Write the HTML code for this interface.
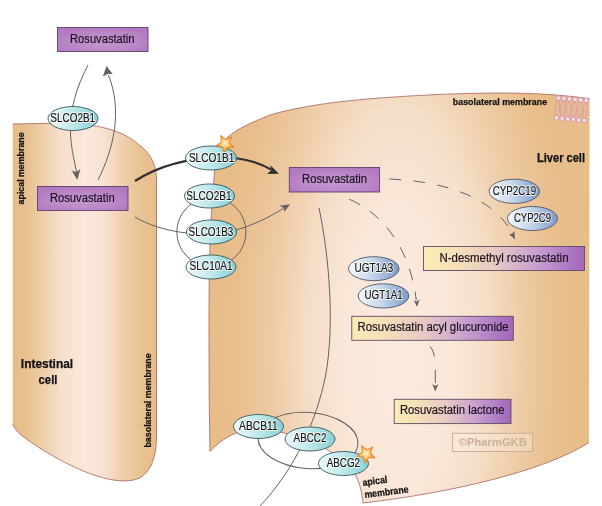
<!DOCTYPE html>
<html>
<head>
<meta charset="utf-8">
<title>Rosuvastatin Pathway, Pharmacokinetics</title>
<style>
html,body{margin:0;padding:0;background:#fff;}
body{width:602px;height:506px;overflow:hidden;font-family:"Liberation Sans",sans-serif;}
svg{display:block;will-change:transform;}
text{font-family:"Liberation Sans",sans-serif;}
</style>
</head>
<body>
<svg width="602" height="506" viewBox="0 0 602 506">
<defs>
  <linearGradient id="gInt" x1="12.700" y1="0" x2="156.500" y2="0" gradientUnits="userSpaceOnUse">
    <stop offset="0" stop-color="#e6bc89"/>
    <stop offset="0.1" stop-color="#e8c08f"/>
    <stop offset="0.2" stop-color="#eecda8"/>
    <stop offset="0.33" stop-color="#f6dfcb"/>
    <stop offset="0.5" stop-color="#fae8db"/>
    <stop offset="0.62" stop-color="#f8e4d4"/>
    <stop offset="0.75" stop-color="#f0d1b0"/>
    <stop offset="0.87" stop-color="#eac495"/>
    <stop offset="1" stop-color="#e7bd8a"/>
  </linearGradient>
  <radialGradient id="gLiv" cx="398" cy="350" r="180" gradientUnits="userSpaceOnUse" gradientTransform="translate(398 350) scale(1 2.67) translate(-398 -350)">
    <stop offset="0" stop-color="#faeade"/>
    <stop offset="0.3" stop-color="#f9e7d9"/>
    <stop offset="0.5" stop-color="#f5dec8"/>
    <stop offset="0.7" stop-color="#eecba4"/>
    <stop offset="0.9" stop-color="#e8be8c"/>
    <stop offset="1" stop-color="#e7bd8a"/>
  </radialGradient>
  <linearGradient id="gCyan" x1="0" y1="0" x2="1" y2="0">
    <stop offset="0" stop-color="#eefafa"/>
    <stop offset="0.45" stop-color="#c4eaec"/>
    <stop offset="1" stop-color="#86d0d6"/>
  </linearGradient>
  <linearGradient id="gBlue" x1="0" y1="0" x2="1" y2="0">
    <stop offset="0" stop-color="#f4f8fc"/>
    <stop offset="0.45" stop-color="#c8d8ea"/>
    <stop offset="1" stop-color="#7a99cc"/>
  </linearGradient>
  <linearGradient id="gYP" x1="0" y1="0" x2="1" y2="0">
    <stop offset="0" stop-color="#fbecb4"/>
    <stop offset="0.2" stop-color="#f5e0b8"/>
    <stop offset="0.45" stop-color="#e6c8c4"/>
    <stop offset="0.7" stop-color="#c9a0cf"/>
    <stop offset="0.88" stop-color="#b07cc6"/>
    <stop offset="1" stop-color="#a266b8"/>
  </linearGradient>
  <radialGradient id="gPur" cx="0.5" cy="0.6" r="0.62">
    <stop offset="0" stop-color="#c698d2"/>
    <stop offset="0.6" stop-color="#bb87c8"/>
    <stop offset="1" stop-color="#b279be"/>
  </radialGradient>
  <radialGradient id="gStar" cx="0.5" cy="0.5" r="0.5">
    <stop offset="0" stop-color="#fff3c8"/>
    <stop offset="0.5" stop-color="#fbc877"/>
    <stop offset="1" stop-color="#f2922e"/>
  </radialGradient>
</defs>

<rect width="602" height="506" fill="#ffffff"/>

<!-- Intestinal cell -->
<path id="intcell" d="M12.700,124 L50,123.300 C90,122.500 120,128 138,144 C148,151 156.500,162 156.500,180 L156.500,436 C156.500,460 149,479 130,480.500 C115,482.500 95,477 70,465 C55,457.500 40,449 25,438 C18,433 14.200,428 12.700,424 Z" fill="url(#gInt)"/>
<path d="M12.700,124 L50,123.300 C90,122.500 120,128 138,144 C148,151 156.500,162 156.500,180 L156.500,436 C156.500,460 149,479 130,480.500 C115,482.500 95,477 70,465 C55,457.500 40,449 25,438 C18,433 14.200,428 12.700,424" fill="none" stroke="#a8625a" stroke-width="0.8"/>

<!-- Liver cell -->
<path id="livcell" d="M210,451.500 L209.200,400 C209,330 208.600,290 210,245 C211,215 213,190 214.500,172 C216,158 219,147 225,140 C232,132 245,125 270,115 C300,106 340,101 380,98 C420,95 460,93 500,93 C535,93 565,95 589.600,98.800 L589,442.500 C545,471 450,493 363,503 C362,493 360,483 355,474 C350,467 342,459 331,452 C318,443 300,437 282,432.500 C268,429 248,428.500 235,433.500 C224,438 216,445 210,451.500 Z" fill="url(#gLiv)"/>
<path d="M589,442.500 C545,471 450,493 363,503 C362,493 360,483 355,474 C350,467 342,459 331,452 C318,443 300,437 282,432.500 C268,429 248,428.500 235,433.500 C224,438 216,445 210,451.500 L209.200,400 C209,330 208.600,290 210,245 C211,215 213,190 214.500,172 C216,158 219,147 225,140 C232,132 245,125 270,115 C300,106 340,101 380,98 C420,95 460,93 500,93 C535,93 565,95 589.600,98.800" fill="none" stroke="#a8625a" stroke-width="0.8"/>

<!-- membrane icon -->
<g id="memb" transform="translate(571.300 109.200) rotate(5.500)" stroke="#dc9cb0" stroke-width="1" fill="#fae0e7">
  <path d="M-14.7,-8.500 C-16.6,-3 -16.6,3 -14.7,8.500 M-13.3,-8.500 C-11.4,-3 -11.4,3 -13.3,8.500 M-9.1,-8.500 C-11.0,-3 -11.0,3 -9.1,8.500 M-7.7,-8.500 C-5.8,-3 -5.8,3 -7.7,8.500 M-3.5,-8.500 C-5.4,-3 -5.4,3 -3.5,8.500 M-2.1,-8.500 C-0.2,-3 -0.2,3 -2.1,8.500 M2.1,-8.500 C0.2,-3 0.2,3 2.1,8.500 M3.5,-8.500 C5.4,-3 5.4,3 3.5,8.500 M7.7,-8.500 C5.8,-3 5.8,3 7.7,8.500 M9.1,-8.500 C11.0,-3 11.0,3 9.1,8.500 M13.3,-8.500 C11.4,-3 11.4,3 13.3,8.500 M14.7,-8.500 C16.6,-3 16.6,3 14.7,8.500 " fill="none"/>
  <circle cx="-14" cy="-10" r="2.250"/><circle cx="-14" cy="10" r="2.250"/><circle cx="-8.4" cy="-10" r="2.250"/><circle cx="-8.4" cy="10" r="2.250"/><circle cx="-2.8" cy="-10" r="2.250"/><circle cx="-2.8" cy="10" r="2.250"/><circle cx="2.8" cy="-10" r="2.250"/><circle cx="2.8" cy="10" r="2.250"/><circle cx="8.4" cy="-10" r="2.250"/><circle cx="8.4" cy="10" r="2.250"/><circle cx="14" cy="-10" r="2.250"/><circle cx="14" cy="10" r="2.250"/>
</g>

<!-- lines / arrows -->
<g fill="none" stroke="#636363" stroke-width="1">
  <!-- top box down through SLCO2B1 to intestinal rosuvastatin -->
  <path d="M88,65 C76,88 69.500,110 70.500,135 C71.500,150 74.500,162 76.500,172"/>
  <!-- intestinal rosuvastatin back up -->
  <path d="M98,180 C113,150 123,112 108.500,75"/>
  <!-- lower arrow to liver via SLCO1B3 -->
  <path d="M135,217 C160,232 200,238 232,231 C252,226 270,217 283,208.500"/>
  <!-- transporter circle -->
  <circle cx="211.400" cy="232" r="34.600"/>
  <!-- efflux line -->
  <path d="M319,208 C329,255 335,325 325.500,376 C316.500,420 296,468 260,506"/>
  <!-- efflux ellipse -->
  <ellipse cx="308" cy="440.500" rx="50" ry="28" transform="rotate(4 308 440.500)"/>
</g>
<!-- thick arrow via SLCO1B1 -->
<path d="M135,181 C165,162 200,156 235,158 C250,160 262,164 271,169.500" fill="none" stroke="#2f2f2f" stroke-width="2.200"/>
<path d="M279,173.800 L267,174 L271.300,170.300 L270.400,165.300 Z" fill="#2f2f2f"/>

<!-- arrowheads grey -->
<g fill="#636363">
  <path d="M77.300,180 L71.700,170.400 L76.200,172.300 L80.400,169 Z"/>
  <path d="M106.500,66 L112.800,74.200 L108.300,73.800 L102.800,76.500 Z"/>
  <path d="M290,204.300 L284.600,211.800 L283.400,207.800 L279.600,205.800 Z"/>
</g>

<!-- dashed lines -->
<g fill="none" stroke="#636363" stroke-width="1">
  <path d="M389.600,179 C440,181 490,195 511,231" stroke-dasharray="11.500 12.500"/>
  <path d="M349.300,199.200 C385,215 410,250 416.300,300" stroke-dasharray="12 11.700"/>
  <path d="M430.200,346.500 C432.500,349.500 433.800,353 434.300,356.500 M435.300,369.800 L435.300,383"/>
</g>
<g fill="#636363">
  <path d="M515,239.500 L509.200,234.300 L512.200,233.800 L514.400,231.300 Z"/>
  <path d="M417,306.800 L413.800,300.200 L416.600,301.500 L419.800,299.600 Z"/>
  <path d="M435.300,391.500 L432.300,384.300 L435.300,385.800 L438.300,384.300 Z"/>
</g>

<!-- purple boxes -->
<g stroke="#5e3f70" stroke-width="0.9">
  <rect x="57.500" y="27.500" width="90.500" height="24" fill="url(#gPur)"/>
  <rect x="37.500" y="186.500" width="90.500" height="24" fill="url(#gPur)"/>
  <rect x="289.300" y="167.500" width="90.300" height="24.500" fill="url(#gPur)"/>
</g>
<g stroke="#5e4c64" stroke-width="0.9">
  <rect x="423.500" y="246.500" width="161" height="24" fill="url(#gYP)"/>
  <rect x="351.800" y="316.300" width="161.500" height="24" fill="url(#gYP)"/>
  <rect x="394.200" y="399.300" width="116.800" height="24.300" fill="url(#gYP)"/>
</g>

<!-- ellipses -->
<g stroke="#35575c" stroke-width="0.9" fill="url(#gCyan)">
  <ellipse cx="73" cy="118.500" rx="25" ry="12"/>
  <ellipse cx="211" cy="158" rx="25.500" ry="12"/>
  <ellipse cx="209.500" cy="196" rx="25" ry="12"/>
  <ellipse cx="211.500" cy="232" rx="25" ry="12"/>
  <ellipse cx="211" cy="267" rx="25" ry="12"/>
  <ellipse cx="258.500" cy="426.500" rx="25" ry="12"/>
  <ellipse cx="310" cy="439" rx="25" ry="12"/>
  <ellipse cx="343.500" cy="463.500" rx="25" ry="12"/>
</g>
<g stroke="#4f5563" stroke-width="0.9" fill="url(#gBlue)">
  <ellipse cx="514.300" cy="191.300" rx="25.200" ry="12.100"/>
  <ellipse cx="532.500" cy="218.500" rx="25" ry="12"/>
  <ellipse cx="373.800" cy="268.700" rx="25.200" ry="12"/>
  <ellipse cx="383.500" cy="295.900" rx="25.300" ry="12.100"/>
</g>

<!-- stars -->
<g stroke="#e8872a" stroke-width="1" fill="url(#gStar)" stroke-linejoin="miter">
  <path id="star" d="M0,-9 L2.600,-3.200 L8.800,-2.600 L4.200,1.600 L5.600,7.800 L0,4.600 L-5.600,7.800 L-4.200,1.600 L-8.800,-2.600 L-2.600,-3.200 Z" transform="translate(225.200 143.500) rotate(-30)"/>
  <path d="M0,-9 L2.600,-3.200 L8.800,-2.600 L4.200,1.600 L5.600,7.800 L0,4.600 L-5.600,7.800 L-4.200,1.600 L-8.800,-2.600 L-2.600,-3.200 Z" transform="translate(366.100 453.800) rotate(-30)"/>
</g>

<!-- text -->
<g font-size="12.500" fill="#1c1420" stroke="#1c1420" stroke-width="0.2" text-anchor="middle">
  <text x="102.300" y="42.700" textLength="64.500" lengthAdjust="spacingAndGlyphs">Rosuvastatin</text>
  <text x="82.300" y="201.700" textLength="64.700" lengthAdjust="spacingAndGlyphs">Rosuvastatin</text>
  <text x="334.600" y="182.800" textLength="65" lengthAdjust="spacingAndGlyphs">Rosuvastatin</text>
  <text x="504" y="261.500" textLength="129" lengthAdjust="spacingAndGlyphs">N-desmethyl rosuvastatin</text>
  <text x="433.100" y="331.300" textLength="151" lengthAdjust="spacingAndGlyphs">Rosuvastatin acyl glucuronide</text>
  <text x="452.200" y="414.400" textLength="104.500" lengthAdjust="spacingAndGlyphs">Rosuvastatin lactone</text>
</g>
<defs>
<g id="lbls" font-size="12.500" text-anchor="middle">
  <text x="72.7" y="122.4" textLength="44.8" lengthAdjust="spacingAndGlyphs">SLCO2B1</text>
  <text x="211.6" y="161.8" textLength="45.4" lengthAdjust="spacingAndGlyphs">SLCO1B1</text>
  <text x="208.9" y="200.1" textLength="45.4" lengthAdjust="spacingAndGlyphs">SLCO2B1</text>
  <text x="210.9" y="235.6" textLength="44.8" lengthAdjust="spacingAndGlyphs">SLCO1B3</text>
  <text x="211.1" y="270.0" textLength="43.2" lengthAdjust="spacingAndGlyphs">SLC10A1</text>
  <text x="258.4" y="430.0" textLength="38.6" lengthAdjust="spacingAndGlyphs">ABCB11</text>
  <text x="310.0" y="442.2" textLength="32.8" lengthAdjust="spacingAndGlyphs">ABCC2</text>
  <text x="343.4" y="467.1" textLength="33.4" lengthAdjust="spacingAndGlyphs">ABCG2</text>
  <text x="514.4" y="194.7" textLength="43.4" lengthAdjust="spacingAndGlyphs">CYP2C19</text>
  <text x="532.5" y="222.2" textLength="37.2" lengthAdjust="spacingAndGlyphs">CYP2C9</text>
  <text x="373.9" y="272.4" textLength="38.8" lengthAdjust="spacingAndGlyphs">UGT1A3</text>
  <text x="383.6" y="299.2" textLength="38.2" lengthAdjust="spacingAndGlyphs">UGT1A1</text>
</g>
</defs>
<use href="#lbls" fill="#ffffff" stroke="#ffffff" stroke-width="2" stroke-linejoin="round" stroke-opacity="0.9"/>
<use href="#lbls" fill="#151515" stroke="#151515" stroke-width="0.22"/>

<g font-weight="bold" fill="#111111" stroke="#111111" stroke-width="0.25">
  <text x="537" y="161.800" font-size="12.300" textLength="48" lengthAdjust="spacingAndGlyphs">Liver cell</text>
  <text x="47" y="368.300" font-size="12.300" text-anchor="middle" textLength="52.300" lengthAdjust="spacingAndGlyphs">Intestinal</text>
  <text x="48" y="384" font-size="12.300" text-anchor="middle" textLength="18.800" lengthAdjust="spacingAndGlyphs">cell</text>
  <text x="452.800" y="105.400" font-size="9.800" textLength="94.300" lengthAdjust="spacingAndGlyphs">basolateral membrane</text>
  <text font-size="9.800" transform="translate(23.900 204.400) rotate(-90)" textLength="72" lengthAdjust="spacingAndGlyphs">apical membrane</text>
  <text font-size="9.800" transform="translate(150.800 447.600) rotate(-90)" textLength="94.300" lengthAdjust="spacingAndGlyphs">basolateral membrane</text>
  <text font-size="9.800" transform="translate(362.900 485.900) rotate(-7.500)" textLength="25" lengthAdjust="spacingAndGlyphs">apical</text>
  <text font-size="9.800" transform="translate(364.900 498.100) rotate(-7.500)" textLength="44.300" lengthAdjust="spacingAndGlyphs">membrane</text>
</g>

<!-- watermark -->
<rect x="452.600" y="433.300" width="80" height="18.200" fill="#fbeee4" fill-opacity="0.35" stroke="#c9ae98" stroke-width="1"/>
<text x="492.800" y="445.700" font-size="10.500" font-weight="bold" fill="#c9b09a" text-anchor="middle" textLength="68" lengthAdjust="spacingAndGlyphs">©PharmGKB</text>
</svg>
</body>
</html>
